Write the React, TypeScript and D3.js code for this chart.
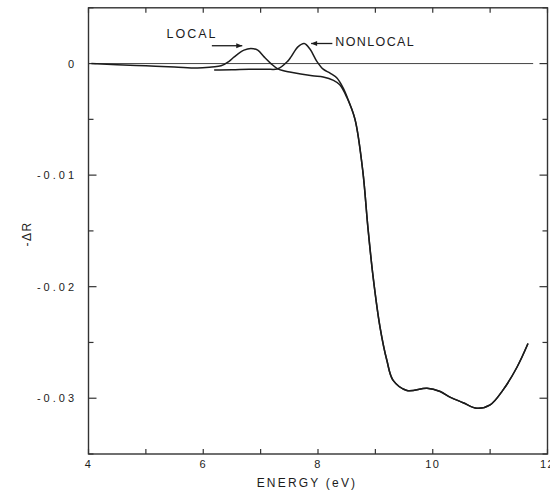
import React from 'react';
import * as d3 from 'd3';

// LOCAL curve (eV, -ΔR)
const localE = [4.05, 4.5, 5.0, 5.5, 5.9, 6.15, 6.31, 6.45, 6.54, 6.71, 6.83, 6.95, 7.06, 7.18, 7.30, 7.53, 7.9, 8.09, 8.27, 8.38, 8.5];
const localR = [0.0, -0.0001, -0.0002, -0.0003, -0.0004, -0.0003, -0.0002, 0.0002, 0.0006, 0.0012, 0.00135, 0.0012, 0.0006, 0.0, -0.00047, -0.00078, -0.0011, -0.0012, -0.0015, -0.0019, -0.003];

// NONLOCAL curve
const nonlocalE = [6.19, 6.5, 6.8, 7.1, 7.3, 7.47, 7.53, 7.65, 7.76, 7.86, 7.98, 8.09, 8.21, 8.33, 8.44, 8.53];
const nonlocalR = [-0.00057, -0.00055, -0.0005, -0.0005, -0.00047, 0.0002, 0.0006, 0.0015, 0.0018, 0.0013, 0.0002, -0.0005, -0.00086, -0.0013, -0.0022, -0.0033];

// both curves share the big drop and what follows
const tailE = [8.645, 8.78, 8.87, 8.96, 9.08, 9.2, 9.31, 9.55, 9.9, 10.13, 10.3, 10.53, 10.77, 11.0, 11.22, 11.47, 11.66];
const tailR = [-0.005, -0.0096, -0.0147, -0.0191, -0.0236, -0.0266, -0.0284, -0.0293, -0.0291, -0.0294, -0.0299, -0.0304, -0.0309, -0.0306, -0.0293, -0.0272, -0.0251];

const xTicks = [4, 5, 6, 7, 8, 9, 10, 11, 12];
const xLabels = [4, 6, 8, 10, 12];
const yTicks = [0.005, 0, -0.005, -0.01, -0.015, -0.02, -0.025, -0.03, -0.035];
const yLabels = [0, -0.01, -0.02, -0.03];

const ink = '#1c1c1c';
const font = 'Liberation Sans, Arial, sans-serif';

const App = () => {
  const x = d3.scaleLinear().domain([4, 12]).range([88.5, 547.5]);
  const y = d3.scaleLinear().domain([-0.035, 0.005]).range([454, 7.8]);

  const toPts = (es, rs) => es.map((e, i) => [e, rs[i]]);
  const tail = toPts(tailE, tailR);
  const localData = toPts(localE, localR).concat(tail);
  const nonlocalData = toPts(nonlocalE, nonlocalR).concat(tail);

  const line = d3.line()
    .x((d) => x(d[0]))
    .y((d) => y(d[1]))
    .curve(d3.curveCatmullRom.alpha(0.5));

  const [x0, x1] = x.range();
  const [yb, yt] = y.range();

  return (
    <svg width={550} height={497} style={{ position: 'absolute', left: 0, top: 0, background: '#fff' }}>
      <defs>
        <marker id="head" viewBox="0 0 10 10" refX="10" refY="5" markerWidth="7" markerHeight="6" orient="auto" markerUnits="userSpaceOnUse">
          <path d="M0,1 L10,5 L0,9 Z" fill={ink} />
        </marker>
      </defs>

      {/* frame */}
      <rect x={x0} y={yt} width={x1 - x0} height={yb - yt} fill="none" stroke="#333" strokeWidth={1.4} />

      {/* x ticks, inward on top and bottom */}
      {xTicks.map((t) => (
        <g key={'xt' + t}>
          <line x1={x(t)} x2={x(t)} y1={yb} y2={yb - 5} stroke="#333" strokeWidth={1.2} />
          <line x1={x(t)} x2={x(t)} y1={yt} y2={yt + 5} stroke="#333" strokeWidth={1.2} />
        </g>
      ))}
      {xLabels.map((t) => (
        <text key={'xl' + t} x={x(t)} y={468} textAnchor="middle" fontFamily={font} fontSize={11} letterSpacing={1.5} fill={ink}>
          {t}
        </text>
      ))}

      {/* y ticks, inward on left and right */}
      {yTicks.map((t) => {
        const major = Math.abs(Math.round(t * 1000) % 10) === 0;
        const len = major ? 8 : 5;
        return (
          <g key={'yt' + t}>
            <line x1={x0} x2={x0 + len} y1={y(t)} y2={y(t)} stroke="#333" strokeWidth={1.2} />
            <line x1={x1} x2={x1 - len} y1={y(t)} y2={y(t)} stroke="#333" strokeWidth={1.2} />
          </g>
        );
      })}
      {yLabels.map((t) => (
        <text key={'yl' + t} x={77} y={y(t) + 4} textAnchor="end" fontFamily={font} fontSize={11} letterSpacing={3} fill={ink}>
          {t === 0 ? '0' : '-' + Math.abs(t).toFixed(2)}
        </text>
      ))}

      {/* zero reference line */}
      <line x1={x(4.1)} x2={x(11.75)} y1={y(0)} y2={y(0)} stroke="#444" strokeWidth={1} />

      {/* curves */}
      <path d={line(localData)} fill="none" stroke={ink} strokeWidth={1.5} />
      <path d={line(nonlocalData)} fill="none" stroke={ink} strokeWidth={1.5} />

      {/* annotations */}
      <text x={x(5.36)} y={y(0.0023)} fontFamily={font} fontSize={12.5} letterSpacing={2} fill={ink}>LOCAL</text>
      <line x1={x(6.15)} x2={x(6.68)} y1={y(0.0016)} y2={y(0.0016)} stroke={ink} strokeWidth={1.3} markerEnd="url(#head)" />
      <text x={x(8.3)} y={y(0.0016)} fontFamily={font} fontSize={12.5} letterSpacing={1.4} fill={ink}>NONLOCAL</text>
      <line x1={x(8.25)} x2={x(7.88)} y1={y(0.0018)} y2={y(0.0018)} stroke={ink} strokeWidth={1.3} markerEnd="url(#head)" />

      {/* axis titles */}
      <text x={307} y={487} textAnchor="middle" fontFamily={font} fontSize={12} letterSpacing={2.2} fill={ink}>ENERGY (eV)</text>
      <text transform="translate(31,234) rotate(-90)" textAnchor="middle" fontFamily={font} fontSize={12} letterSpacing={1.5} fill={ink}>-ΔR</text>
    </svg>
  );
};

export default App;
